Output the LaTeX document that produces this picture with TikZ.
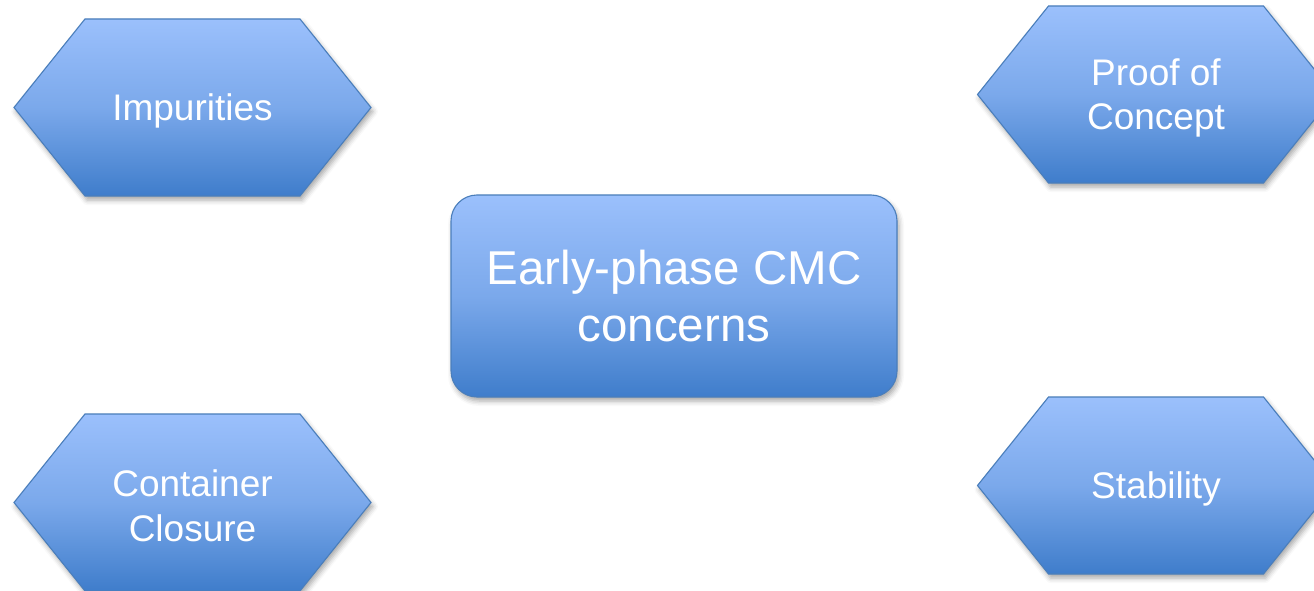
\documentclass[tikz,border=0pt]{standalone}
\usepackage{fontspec}
\setmainfont{Liberation Sans}
\usetikzlibrary{shadows.blur}
\definecolor{gtop}{RGB}{155,192,252}
\definecolor{gbot}{RGB}{63,125,203}
\definecolor{edge}{RGB}{74,126,187}
\tikzset{
  shapefill/.style={draw=edge, line width=1.1pt, top color=gtop, bottom color=gbot, middle color=gtop!65!gbot,
    blur shadow={shadow xshift=2pt, shadow yshift=-4pt, shadow blur radius=5pt, shadow opacity=35}},
  hexlabel/.style={text=white, font=\fontsize{37}{44.5}\selectfont, align=center, inner sep=0pt, yshift=-3.5pt},
  corebox/.style={shapefill, rounded corners=26pt, minimum width=446pt, minimum height=202pt,
    text=white, font=\fontsize{47.5}{57}\selectfont, align=center}
}
\newcommand\hexaround[1]{%
  \path[shapefill] ([shift={(-178.5pt,0pt)}]#1) -- ([shift={(-107.5pt,88.5pt)}]#1)
    -- ([shift={(107.5pt,88.5pt)}]#1) -- ([shift={(178.5pt,0pt)}]#1)
    -- ([shift={(107.5pt,-88.5pt)}]#1) -- ([shift={(-107.5pt,-88.5pt)}]#1) -- cycle;}
\begin{document}
\begin{tikzpicture}[x=1pt,y=-1pt]
\useasboundingbox (0,0) rectangle (1314,591);
\coordinate (impc) at (192.5,107.5);
\coordinate (pocc) at (1156,94.5);
\coordinate (ccc) at (192.5,502.5);
\coordinate (stabc) at (1156,485.5);
\hexaround{impc}
\hexaround{pocc}
\hexaround{ccc}
\hexaround{stabc}
\node[hexlabel] (imp) at (impc) {Impurities};
\node[hexlabel] (poc) at (pocc) {Proof of\\Concept};
\node[hexlabel] (cc) at (ccc) {Container\\Closure};
\node[hexlabel] (stab) at (stabc) {Stability};
\node[corebox] (core) at (674,296) {Early-phase CMC\\concerns};
\end{tikzpicture}
\end{document}
